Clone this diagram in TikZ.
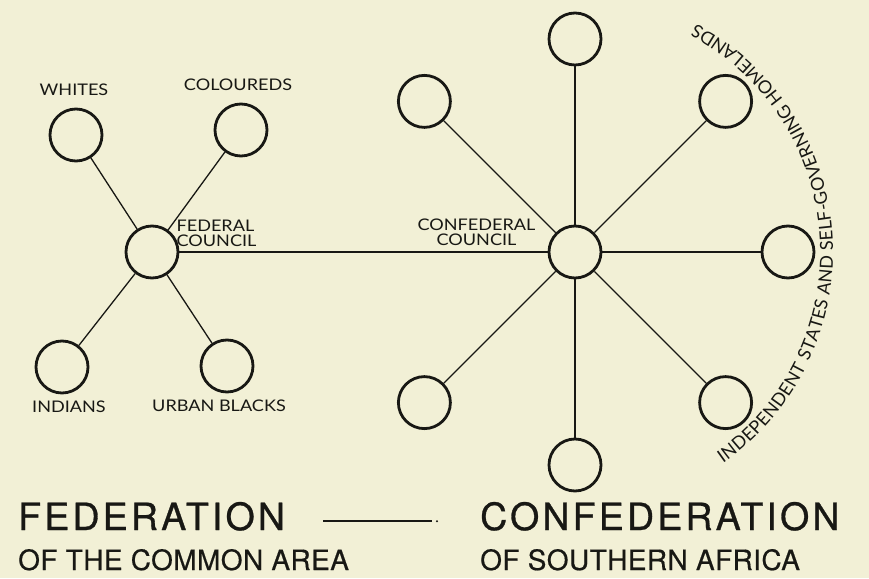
\documentclass[tikz,border=0pt]{standalone}
\usepackage{fontspec}
\setmainfont{Lato}
\newfontfamily\labelfont[FakeStretch=1.13]{Lato}
\newfontfamily\titlefont[LetterSpace=8.5, FakeBold=0.8]{TeX Gyre Heros}
\newfontfamily\subfont[LetterSpace=1.5, FakeBold=0.5]{TeX Gyre Heros}
\usetikzlibrary{positioning, calc, decorations.text}
\definecolor{paper}{RGB}{242,240,214}
\definecolor{ink}{RGB}{24,24,20}
\newcommand\arcfont{\fontsize{18}{18}\selectfont}
\tikzstyle{member} = [circle, draw=ink, line width=2.8pt, minimum size=52pt, inner sep=0pt]
\tikzstyle{link} = [draw=ink, line width=1.3pt]
\tikzstyle{tag} = [inner sep=0pt, text=ink, font=\labelfont\fontsize{16}{15}\selectfont]
\tikzstyle{bigtitle} = [inner sep=0pt, anchor=base west, text=ink, font=\titlefont\fontsize{37.5}{37.5}\selectfont]
\tikzstyle{subtitle} = [inner sep=0pt, anchor=base west, text=ink, font=\subfont\fontsize{28}{28}\selectfont]

\begin{document}
\begin{tikzpicture}[x=1pt, y=1pt]
\fill [paper] (0,0) rectangle (869,578);
\useasboundingbox (0,0) rectangle (869,578);

\node (fed) [member] at (152,326) {};
\node (whites) [member] at (76,443) {};
\node (coloureds) [member] at (241,448) {};
\node (indians) [member] at (62,211) {};
\node (blacks) [member] at (227,212) {};

\node (confed) [member] at (575,326) {};
\foreach \a/\n in {90/st1, 45/st2, 0/st3, -45/st4, -90/st5, -135/st6, 135/st7} {
  \node (\n) [member] at ($(confed)+(\a:213)$) {};
  \draw [link] (confed) -- (\n);
}

\draw [link] (fed) -- (whites);
\draw [link] (fed) -- (coloureds);
\draw [link] (fed) -- (indians);
\draw [link] (fed) -- (blacks);
\draw [link] (fed) -- (confed);

\node (whiteslbl) [tag, above=12pt of whites, xshift=-2pt] {WHITES};
\node (colouredslbl) [tag, above=12pt of coloureds, xshift=-3pt] {COLOUREDS};
\node (indianslbl) [tag, below=6pt of indians, xshift=7pt] {INDIANS};
\node (blackslbl) [tag, below=6pt of blacks, xshift=-8pt] {URBAN BLACKS};
\node (fedlbl) [tag, anchor=west, align=left] at ([xshift=-3pt, yshift=19pt]fed.east) {FEDERAL\\COUNCIL};
\node (confedlbl) [tag, anchor=east, align=center] at ([xshift=-12pt, yshift=20pt]confed.west) {CONFEDERAL\\COUNCIL};

\path [decorate, decoration={text along path, text align={fit to path},
  text={|\arcfont\color{ink}|INDEPENDENT STATES AND SELF-GOVERNING HOMELANDS}}]
  ($(confed)+(-55:258)$) arc [start angle=-55, end angle=62, radius=258];

\node (fedtitle) [bigtitle] at (18,48) {FEDERATION};
\node (fedsub) [subtitle] at (18,8) {OF THE COMMON AREA};
\node (confedtitle) [bigtitle] at (480,48) {CONFEDERATION};
\node (confedsub) [subtitle] at (480,8) {OF SOUTHERN AFRICA};

\draw [link, line width=2pt] ([xshift=38pt, yshift=-5pt]fedtitle.east) -- ([xshift=-48pt, yshift=-5pt]confedtitle.west);
\fill [ink] ([xshift=-43pt, yshift=-5pt]confedtitle.west) circle (1.1pt);
\end{tikzpicture}
\end{document}
